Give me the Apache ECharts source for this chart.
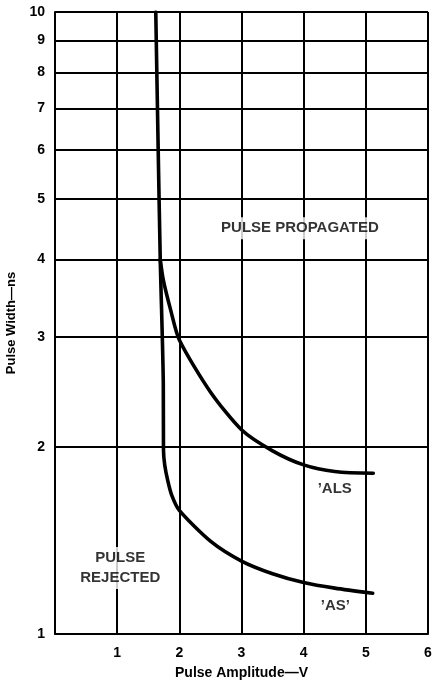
<!DOCTYPE html>
<html>
<head>
<meta charset="utf-8">
<script src="https://cdn.jsdelivr.net/npm/echarts@6/dist/echarts.min.js"></script>
<style>
  html, body { margin: 0; padding: 0; background: #fff; }
  #chart { width: 432px; height: 680px; }
</style>
</head>
<body>
<div id="chart"></div>
<script>
// Minimum pulse width that propagates, versus pulse amplitude
const amplitudeAS = [1.621, 1.660, 1.693, 1.742, 1.745, 1.765, 1.812, 1.877, 2.0,  2.5,  3.0,  3.5,  4.0,  4.5,   5.11];
const widthAS     = [10.0,  6.0,   4.0,   2.53,  1.976, 1.87,  1.768, 1.672, 1.58, 1.41, 1.31, 1.25, 1.21, 1.185, 1.163];

const amplitudeALS = [1.693, 1.742, 1.86, 2.0,  2.5,  3.0,  3.5,  4.0,  4.5,   5.12];
const widthALS     = [4.0,   3.71,  3.32, 2.97, 2.45, 2.13, 1.97, 1.87, 1.825, 1.813];

// Log-decade grid values for the pulse-width axis
const widthTicks = [1, 2, 3, 4, 5, 6, 7, 8, 9, 10];
const amplitudeTicks = [0, 1, 2, 3, 4, 5, 6];

// Region / curve annotations
const noteText = ['PULSE PROPAGATED', 'PULSE\nREJECTED', '\u2019ALS', '\u2019AS\u2019'];
const noteX    = [3.94, 1.05, 4.5, 4.51];
const noteY    = [4.49, 1.277, 1.71, 1.109];

const FONT = '"Liberation Sans", Arial, Helvetica, sans-serif';
const INK = '#000';

const chart = echarts.init(document.getElementById('chart'), null, { renderer: 'canvas' });

const pair = (xs, ys) => xs.map((x, i) => [x, ys[i]]);

chart.setOption({
  backgroundColor: '#fff',
  animation: false,
  grid: { left: 55, right: 4, top: 12, bottom: 46, outerBoundsMode: 'none', containLabel: false },
  xAxis: {
    type: 'value',
    min: amplitudeTicks[0],
    max: amplitudeTicks[amplitudeTicks.length - 1],
    interval: 1,
    name: 'Pulse Amplitude\u2014V',
    nameLocation: 'middle',
    nameGap: 32,
    nameTextStyle: { color: INK, fontFamily: FONT, fontWeight: 'bold', fontSize: 14 },
    axisLine: { show: true, lineStyle: { color: INK, width: 2 } },
    axisTick: { show: false },
    axisLabel: {
      color: INK, fontFamily: FONT, fontWeight: 'bold', fontSize: 14, margin: 12,
      formatter: v => (v === 0 ? '' : String(v))
    },
    splitLine: { show: true, lineStyle: { color: INK, width: 2 } }
  },
  yAxis: {
    type: 'log',
    logBase: 10,
    min: widthTicks[0],
    max: widthTicks[widthTicks.length - 1],
    name: 'Pulse Width\u2014ns',
    nameLocation: 'middle',
    nameRotate: 90,
    nameGap: 37,
    nameTextStyle: { color: INK, fontFamily: FONT, fontWeight: 'bold', fontSize: 13 },
    axisLine: { show: true, lineStyle: { color: INK, width: 2 } },
    axisTick: { show: false },
    axisLabel: { show: false },
    splitLine: { show: true, lineStyle: { color: INK, width: 2 } }
  },
  series: [
    {
      name: 'grid',
      type: 'line',
      data: [],
      silent: true,
      markLine: {
        silent: true,
        symbol: 'none',
        animation: false,
        lineStyle: { color: INK, width: 2, type: 'solid' },
        label: {
          show: true,
          position: 'start',
          distance: 10,
          color: INK,
          fontFamily: FONT,
          fontWeight: 'bold',
          fontSize: 14,
          formatter: p => String(p.value)
        },
        data: widthTicks.map(v => ({ yAxis: v }))
      }
    },
    {
      name: '\u2019AS',
      type: 'line',
      data: pair(amplitudeAS, widthAS),
      smooth: 0.25,
      symbol: 'none',
      lineStyle: { color: INK, width: 3.6, cap: 'round' },
      z: 5
    },
    {
      name: '\u2019ALS',
      type: 'line',
      data: pair(amplitudeALS, widthALS),
      smooth: 0.25,
      symbol: 'none',
      lineStyle: { color: INK, width: 3.6, cap: 'round' },
      z: 5
    },
    {
      name: 'notes',
      type: 'scatter',
      symbolSize: 0,
      silent: true,
      data: noteText.map((t, i) => ({ value: [noteX[i], noteY[i]], name: t })),
      label: {
        show: true,
        position: 'inside',
        formatter: p => p.name,
        color: INK,
        fontFamily: FONT,
        fontWeight: 'bold',
        fontSize: 15,
        lineHeight: 20,
        align: 'center',
        verticalAlign: 'middle',
        backgroundColor: '#fff',
        padding: [1, 2]
      },
      z: 6
    }
  ]
});
</script>
</body>
</html>
